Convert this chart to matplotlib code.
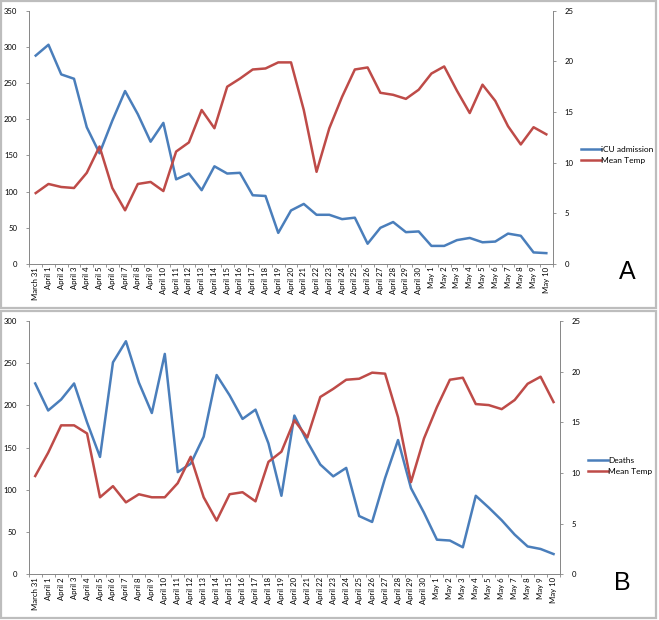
import matplotlib.pyplot as plt
from matplotlib.lines import Line2D
from matplotlib.patches import Rectangle
import numpy as np

plt.rcParams["font.family"] = ["Lato", "DejaVu Sans"]

# Dates on the category axis
dates = ["March 31"] + ["April %d" % d for d in range(1, 31)] + ["May %d" % d for d in range(1, 11)]

# Panel A: ICU admissions (left axis) and mean temperature (right axis)
icu_admission = [288, 303, 262, 256, 189, 153, 198, 239, 207, 169, 195, 117, 125, 102,
                 135, 125, 126, 95, 94, 43, 74, 83, 68, 68, 62, 64, 28, 50, 58, 44,
                 45, 25, 25, 33, 36, 30, 31, 42, 39, 16, 15]
temp_a = [7.0, 7.9, 7.6, 7.5, 9.0, 11.6, 7.5, 5.3, 7.9, 8.1, 7.2, 11.1, 12.0, 15.2,
          13.4, 17.5, 18.3, 19.2, 19.3, 19.9, 19.9, 15.2, 9.1, 13.4, 16.5, 19.2, 19.4,
          16.9, 16.7, 16.3, 17.2, 18.8, 19.5, 17.1, 14.9, 17.7, 16.1, 13.6, 11.8, 13.5, 12.8]

# Panel B: deaths (left axis) and mean temperature (right axis)
deaths = [226, 194, 207, 226, 180, 139, 251, 276, 227, 191, 261, 121, 131, 163, 236,
          212, 184, 195, 155, 93, 188, 157, 130, 116, 126, 69, 62, 114, 159, 102, 73,
          41, 40, 32, 93, 79, 64, 47, 33, 30, 24]
temp_b = [9.7, 12.0, 14.7, 14.7, 13.9, 7.6, 8.7, 7.1, 7.9, 7.6, 7.6, 9.0, 11.6, 7.6,
          5.3, 7.9, 8.1, 7.2, 11.1, 12.1, 15.2, 13.5, 17.5, 18.3, 19.2, 19.3, 19.9,
          19.8, 15.5, 9.1, 13.4, 16.5, 19.2, 19.4, 16.8, 16.7, 16.3, 17.2, 18.8, 19.5, 17.0]

BLUE = "#4a7ebb"
RED = "#be4b48"
AXIS = "#868686"

fig = plt.figure(figsize=(6.59, 6.2), dpi=100)

# grey frames around the two panels
for (x0, y0, x1, y1) in [(1, 1, 656, 308), (1, 311, 656, 618)]:
    fig.add_artist(Rectangle((x0 / 659, 1 - y1 / 620), (x1 - x0) / 659, (y1 - y0) / 620,
                             transform=fig.transFigure, fill=False,
                             edgecolor="#bdbdbd", linewidth=1.6))


def panel(rect, left_vals, left_max, right_vals, left_name, letter, leg_xy, letter_xy):
    ax = fig.add_axes(rect)
    ax2 = ax.twinx()
    x = np.arange(len(dates))
    ax.plot(x, left_vals, color=BLUE, lw=1.8, solid_joinstyle="round")
    ax2.plot(x, right_vals, color=RED, lw=1.8, solid_joinstyle="round")

    ax.set_xlim(-0.5, len(dates) - 0.5)
    ax.set_ylim(0, left_max)
    ax.set_yticks(np.arange(0, left_max + 1, 50))
    ax2.set_ylim(0, 25)
    ax2.set_yticks(np.arange(0, 26, 5))

    ax.set_xticks(x)
    ax.set_xticklabels(dates, rotation=90, fontsize=5.6)
    ax.set_xticks(np.arange(-0.5, len(dates), 1), minor=True)
    ax.tick_params(axis="x", which="major", length=0, pad=2)
    ax.tick_params(axis="x", which="minor", length=2.5, color=AXIS, width=0.6)
    ax.tick_params(axis="y", labelsize=5.6, length=2.5, color=AXIS, width=0.6, pad=6)
    ax2.tick_params(axis="y", labelsize=5.6, length=2.5, color=AXIS, width=0.6, pad=6)

    for a in (ax, ax2):
        a.spines["top"].set_visible(False)
        for s in ("left", "right", "bottom"):
            a.spines[s].set_color(AXIS)
            a.spines[s].set_linewidth(0.7)
    ax.spines["right"].set_visible(False)
    ax2.spines["left"].set_visible(False)
    ax2.spines["bottom"].set_visible(False)

    handles = [Line2D([], [], color=BLUE, lw=1.8), Line2D([], [], color=RED, lw=1.8)]
    fig.legend(handles, [left_name, "Mean Temp"], loc="center left",
               bbox_to_anchor=(leg_xy[0] / 659, 1 - leg_xy[1] / 620),
               frameon=False, fontsize=6.0, handlelength=2.3, handletextpad=0.1,
               labelspacing=0.55, borderaxespad=0)
    fig.text(letter_xy[0] / 659, 1 - letter_xy[1] / 620, letter,
             fontsize=18, family="Liberation Sans", ha="center", va="center")


panel([0.0445, 0.5742, 0.7942, 0.4085], icu_admission, 350, temp_a,
      "iCU admission", "A", (578, 155), (627, 272))
panel([0.0436, 0.0737, 0.8062, 0.4086], deaths, 300, temp_b,
      "Deaths", "B", (585, 466), (622, 583))

fig.savefig("out.png", dpi=100)
